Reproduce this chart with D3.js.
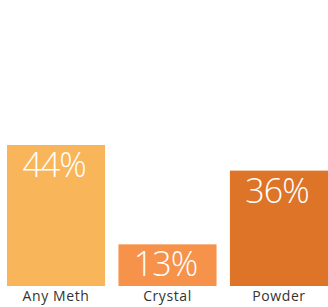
<!DOCTYPE html>
<html>
<head>
<meta charset="utf-8">
<script src="https://cdn.jsdelivr.net/npm/d3@7"></script>
<style>
  body { margin: 0; background: #fff; }
  text { font-family: "Open Sans", sans-serif; }
</style>
</head>
<body>
<svg></svg>
<script>
const categories = ["Any Meth", "Crystal", "Powder"];
const values = [44, 13, 36];
const colors = ["#F9B55A", "#F6924A", "#DE7427"];

const size = { w: 328, h: 307 };
const margin = { t: 8, r: 0, b: 21, l: 7 };
const svg = d3.select("svg").attr("width", size.w).attr("height", size.h);

const x = d3.scaleBand()
  .domain(categories)
  .range([margin.l, size.w - margin.r])
  .paddingInner(0.12)
  .paddingOuter(0);

const y = d3.scaleLinear()
  .domain([0, 44])
  .range([size.h - margin.b, 145]);

const g = svg.append("g");

g.selectAll("rect")
  .data(values)
  .join("rect")
  .attr("x", (d, i) => x(categories[i]))
  .attr("y", d => y(d))
  .attr("width", x.bandwidth())
  .attr("height", d => y(0) - y(d))
  .attr("fill", (d, i) => colors[i]);

// value labels inside bars
g.selectAll("text.val")
  .data(values)
  .join("text")
  .attr("class", "val")
  .attr("x", (d, i) => x(categories[i]) + x.bandwidth() / 2 - 2)
  .attr("y", d => y(d) + 32)
  .attr("text-anchor", "middle")
  .attr("fill", "#fff")
  .attr("font-size", 34)
  .attr("font-weight", 300)
  .attr("letter-spacing", -1)
  .text(d => d + "%");

// category labels under bars
g.selectAll("text.cat")
  .data(categories)
  .join("text")
  .attr("class", "cat")
  .attr("x", d => x(d) + x.bandwidth() / 2)
  .attr("y", size.h - 6)
  .attr("text-anchor", "middle")
  .attr("fill", "#333")
  .attr("font-size", 14)
  .attr("letter-spacing", 0.6)
  .text(d => d);
</script>
</body>
</html>
